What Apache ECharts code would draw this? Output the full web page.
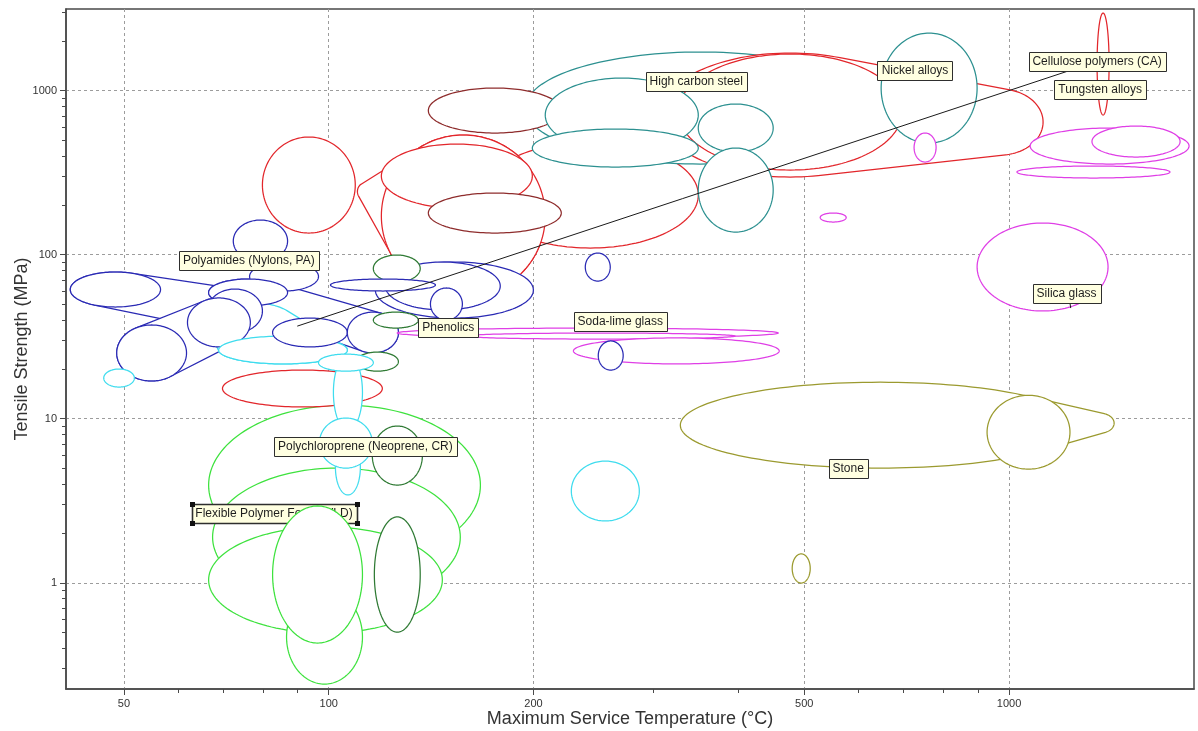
<!DOCTYPE html>
<html>
<head>
<meta charset="utf-8">
<title>Tensile Strength vs Maximum Service Temperature</title>
<script src="https://cdn.jsdelivr.net/npm/echarts@6.0.0/dist/echarts.min.js"></script>
<style>
html, body { margin: 0; padding: 0; background: #ffffff; }
#chart { width: 1198px; height: 731px; }
</style>
</head>
<body>
<div id="chart"></div>
<script>
// ---- Axis ranges and ticks (°C, MPa) ----
const tempRange = [41.1, 1870];
const strengthRange = [0.225, 3150];
const tempMajor = [50, 100, 200, 500, 1000];
const tempMinor = [60, 70, 80, 90, 300, 400, 600, 700, 800, 900];
const strengthMajor = [1, 10, 100, 1000];
const strengthMinor = [0.3, 0.4, 0.5, 0.6, 0.7, 0.8, 0.9, 2, 3, 4, 5, 6, 7, 8, 9,
  20, 30, 40, 50, 60, 70, 80, 90, 200, 300, 400, 500, 600, 700, 800, 900, 2000, 3000];

// ---- Property bubbles: each shape is a list of ranges [Tmin, Tmax, σmin, σmax];
// a shape with several ranges is drawn as the envelope around them ----
const redBubbles = [
  [[110.2, 115.9, 215.6, 273.6], [119.5, 208.1, 55.2, 536.9]],
  [[168.2, 349.3, 109.9, 486.6]],
  [[119.5, 208.1, 55.2, 536.9]],
  [[119.5, 199.2, 192.7, 473.2]],
  [[307.1, 740.1, 297.7, 1698], [838.6, 1122, 405.4, 1024]],
  [[326.5, 696.0, 328.4, 1674]],
  [[79.9, 109.4, 135.6, 522.1]],
  [[1347, 1403, 710.8, 2977]],
  [[69.8, 119.9, 11.8, 19.8]]
];
const maroonBubbles = [
  [[140.1, 219.7, 552.2, 1039]],
  [[140.1, 219.7, 135.6, 237.8]]
];
const tealBubbles = [
  [[194.5, 635.6, 357.3, 1722]],
  [[208.1, 349.3, 422.9, 1195]],
  [[199.2, 349.3, 342.5, 584.1]],
  [[349.3, 450.1, 422.9, 829.5]],
  [[349.3, 450.1, 137.5, 447.3]],
  [[648.6, 897.5, 479.8, 2247]]
];
const magentaBubbles = [
  [[725.1, 781.2, 367.4, 552.2]],
  [[1074, 1839, 357.3, 592.4]],
  [[1324, 1784, 394.2, 609.3]],
  [[1027, 1724, 293.6, 347.4]],
  [[527.7, 576.3, 158.3, 179.6]],
  [[897.5, 1398, 45.4, 156.1]],
  [[126.1, 457.8, 31.1, 35.7]],
  [[158.8, 395.6, 30.6, 33.3]],
  [[228.9, 459.4, 21.6, 31.1]]
];
const blueBubbles = [
  [[41.7, 56.6, 48.0, 78.4], [66.3, 79.9, 33.3, 61.8]],
  [[48.8, 61.8, 17.0, 37.3], [62.0, 76.7, 27.4, 54.5]],
  [[66.6, 87.0, 48.7, 71.1], [106.5, 126.6, 25.2, 44.7]],
  [[41.7, 56.6, 48.0, 78.4]],
  [[72.4, 87.0, 90.3, 162.8]],
  [[76.5, 96.6, 60.1, 90.3]],
  [[66.6, 87.0, 48.7, 71.1]],
  [[66.3, 79.9, 33.3, 61.8]],
  [[62.0, 76.7, 27.4, 54.5]],
  [[48.8, 61.8, 17.0, 37.3]],
  [[82.7, 106.5, 27.4, 41.1]],
  [[100.6, 143.5, 60.1, 71.1]],
  [[106.5, 126.6, 25.2, 44.7]],
  [[121.1, 178.7, 46.0, 90.3]],
  [[117.1, 199.9, 41.1, 90.3]],
  [[141.1, 157.2, 40.0, 62.7]],
  [[238.3, 259.3, 69.1, 102.4]],
  [[249.0, 270.9, 19.8, 29.8]]
];
const cyanBubbles = [
  [[67.0, 90.9, 23.8, 50.8], [68.9, 106.5, 21.6, 31.9]],
  [[68.9, 106.5, 21.6, 31.9]],
  [[96.6, 116.3, 19.5, 24.8]],
  [[46.7, 51.8, 15.6, 20.1]],
  [[227.3, 286.1, 2.38, 5.52]],
  [[101.6, 112.1, 8.53, 24.5]],
  [[96.9, 115.9, 5.0, 10.1]],
  [[102.3, 111.3, 3.43, 7.42]]
];
const greenBubbles = [
  [[66.6, 167.1, 1.28, 12.1]],
  [[67.5, 156.1, 0.721, 5.0]],
  [[66.6, 146.9, 0.494, 2.19]],
  [[82.7, 112.1, 0.429, 2.94]],
  [[86.7, 112.1, 0.241, 0.903]]
];
const darkGreenBubbles = [
  [[116.3, 136.3, 68.2, 99.6]],
  [[116.3, 135.4, 35.7, 44.7]],
  [[109.8, 126.6, 19.5, 25.5]],
  [[115.9, 137.3, 3.94, 9.03]],
  [[116.7, 136.3, 0.500, 2.52]]
];
const oliveBubbles = [
  [[328.7, 1272, 5.00, 16.7], [1298, 1427, 8.18, 10.8]],
  [[928.3, 1229, 4.93, 13.9]],
  [[480, 510.2, 0.996, 1.50]]
];

// ---- Annotations ----
const labelTexts = ['High carbon steel', 'Nickel alloys', 'Cellulose polymers (CA)', 'Tungsten alloys',
  'Polyamides (Nylons, PA)', 'Phenolics', 'Soda-lime glass', 'Silica glass', 'Stone',
  'Polychloroprene (Neoprene, CR)', 'Flexible Polymer Foam (VLD)'];
const labelAt = [[346.9, 1146], [727.3, 1337], [1347, 1513], [1361, 1017], [76.3, 92.2],
  [149.9, 36.2], [268.2, 39.1], [1215, 58.4], [580.2, 5.0], [113.2, 6.82], [83.1, 2.64]];
const leaderLines = [[[89.9, 36.7], [1221, 1318]], [[1229, 50.8], [1232, 47.3]]];

// ---- Styling ----
const families = {
  red: { shapes: redBubbles, color: '#e2262b' },
  maroon: { shapes: maroonBubbles, color: '#8e2c2c' },
  teal: { shapes: tealBubbles, color: '#2c9090' },
  magenta: { shapes: magentaBubbles, color: '#df3fe6' },
  blue: { shapes: blueBubbles, color: '#2a2ab4' },
  cyan: { shapes: cyanBubbles, color: '#3fdcee' },
  green: { shapes: greenBubbles, color: '#3ee23e' },
  darkGreen: { shapes: darkGreenBubbles, color: '#2f7a34' },
  olive: { shapes: oliveBubbles, color: '#9b9a2f' }
};
const SELECTED_LABEL = 10;
const FONT = '"Liberation Sans", Arial, sans-serif';

// Painting order: bubbles are filled white, so later ones cover earlier ones
const drawOrder = [
  ['red', 0], ['red', 1], ['red', 2], ['red', 3], ['maroon', 1], ['teal', 0], ['maroon', 0],
  ['red', 4], ['red', 5], ['teal', 1], ['teal', 2], ['teal', 3], ['teal', 4], ['teal', 5],
  ['magenta', 0], ['red', 6], ['red', 7],
  ['magenta', 1], ['magenta', 2], ['magenta', 3], ['magenta', 4], ['magenta', 5],
  ['blue', 0], ['blue', 1], ['blue', 2], ['cyan', 0],
  ['blue', 3], ['blue', 4], ['blue', 5], ['blue', 6], ['blue', 7], ['blue', 8], ['blue', 9],
  ['cyan', 1], ['blue', 10],
  ['blue', 14], ['blue', 13], ['darkGreen', 0], ['blue', 11], ['blue', 15], ['blue', 12], ['darkGreen', 1],
  ['magenta', 6], ['magenta', 7], ['magenta', 8], ['blue', 16], ['blue', 17],
  ['cyan', 3],
  ['green', 0], ['green', 1], ['green', 2], ['green', 4], ['label', 10], ['green', 3],
  ['darkGreen', 4], ['darkGreen', 3],
  ['red', 8],
  ['cyan', 5], ['cyan', 7], ['cyan', 6], ['darkGreen', 2], ['cyan', 2],
  ['cyan', 4],
  ['olive', 0], ['olive', 1], ['olive', 2],
  ['leader', 0], ['leader', 1],
  ['label', 0], ['label', 1], ['label', 2], ['label', 3], ['label', 4], ['label', 5],
  ['label', 6], ['label', 7], ['label', 8], ['label', 9]
];

const lg = Math.log10;

const measureCtx = document.createElement('canvas').getContext('2d');
function textWidth(text) {
  measureCtx.font = '12px ' + FONT;
  return measureCtx.measureText(text).width;
}

function convexHull(points) {
  const p = points.slice().sort((a, b) => a[0] - b[0] || a[1] - b[1]);
  const cross = (o, a, b) => (a[0] - o[0]) * (b[1] - o[1]) - (a[1] - o[1]) * (b[0] - o[0]);
  const lower = [];
  for (const q of p) {
    while (lower.length >= 2 && cross(lower[lower.length - 2], lower[lower.length - 1], q) <= 0) lower.pop();
    lower.push(q);
  }
  const upper = [];
  for (let i = p.length - 1; i >= 0; i--) {
    const q = p[i];
    while (upper.length >= 2 && cross(upper[upper.length - 2], upper[upper.length - 1], q) <= 0) upper.pop();
    upper.push(q);
  }
  upper.pop(); lower.pop();
  return lower.concat(upper);
}

function bubbleOutline(ranges, api) {
  const pts = [];
  ranges.forEach(r => {
    const a = api.coord([lg(r[0]), lg(r[2])]);
    const b = api.coord([lg(r[1]), lg(r[3])]);
    const cx = (a[0] + b[0]) / 2, cy = (a[1] + b[1]) / 2;
    const rx = Math.abs(b[0] - a[0]) / 2, ry = Math.abs(b[1] - a[1]) / 2;
    const n = 144;
    for (let k = 0; k < n; k++) {
      const t = k / n * Math.PI * 2;
      pts.push([cx + rx * Math.cos(t), cy + ry * Math.sin(t)]);
    }
  });
  return ranges.length > 1 ? convexHull(pts) : pts;
}

function labelElement(i, api, z) {
  const c = api.coord([lg(labelAt[i][0]), lg(labelAt[i][1])]);
  const w = Math.round(textWidth(labelTexts[i]) + 8);
  const h = 19;
  const x = Math.round(c[0] - w / 2) + 0.5, y = Math.round(c[1] - h / 2) + 0.5;
  const selected = i === SELECTED_LABEL;
  const children = [
    { type: 'rect', shape: { x: x, y: y, width: w, height: h },
      style: { fill: '#ffffe1', stroke: '#2e2e2e', lineWidth: selected ? 1.6 : 1 }, z2: z },
    { type: 'text', x: c[0], y: c[1] + 0.5, z2: z,
      style: { text: labelTexts[i], fill: '#1e1e1e', font: '12px ' + FONT, align: 'center', verticalAlign: 'middle' } }
  ];
  if (selected) {
    [[x, y], [x + w, y], [x, y + h], [x + w, y + h]].forEach(p => {
      children.push({ type: 'rect', shape: { x: p[0] - 2.5, y: p[1] - 2.5, width: 5, height: 5 },
        style: { fill: '#111111' }, z2: z });
    });
  }
  return { type: 'group', children: children };
}

function renderItem(params, api) {
  const entry = drawOrder[params.dataIndex];
  const z = params.dataIndex + 1;
  if (entry[0] === 'label') return labelElement(entry[1], api, z);
  if (entry[0] === 'leader') {
    const seg = leaderLines[entry[1]];
    const a = api.coord([lg(seg[0][0]), lg(seg[0][1])]);
    const b = api.coord([lg(seg[1][0]), lg(seg[1][1])]);
    return { type: 'line', z2: z, shape: { x1: a[0], y1: a[1], x2: b[0], y2: b[1] },
      style: { stroke: '#1a1a1a', lineWidth: 1 } };
  }
  const fam = families[entry[0]];
  return {
    type: 'polygon', z2: z,
    shape: { points: bubbleOutline(fam.shapes[entry[1]], api) },
    style: { fill: '#ffffff', stroke: fam.color, lineWidth: 1.25 }
  };
}

const axisColor = '#4a4a4a';
function mainAxis(range, major, name, isX) {
  return {
    type: 'value',
    min: lg(range[0]), max: lg(range[1]),
    position: isX ? 'bottom' : 'left',
    name: name,
    nameLocation: 'middle',
    nameGap: isX ? 21 : 35,
    nameMoveOverlap: false,
    nameTextStyle: { fontFamily: FONT, fontSize: 18, color: '#333333' },
    axisLine: { show: true, onZero: false, lineStyle: { color: axisColor, width: 1.5 } },
    axisTick: { show: true, inside: false, length: 6, customValues: major.map(lg),
      lineStyle: { color: axisColor, width: 1 } },
    axisLabel: { show: true, customValues: major.map(lg), margin: isX ? 9 : 9,
      color: '#333333', fontFamily: FONT, fontSize: 11,
      formatter: v => String(Math.round(Math.pow(10, v))) },
    splitLine: { show: true, lineStyle: { color: '#9c9c9c', width: 1, type: [3, 3] } }
  };
}
function minorAxis(range, minor, isX) {
  return {
    type: 'value',
    min: lg(range[0]), max: lg(range[1]),
    position: isX ? 'bottom' : 'left',
    axisLine: { show: false, onZero: false },
    axisTick: { show: true, inside: false, length: 4, customValues: minor.map(lg),
      lineStyle: { color: axisColor, width: 1 } },
    axisLabel: { show: false },
    splitLine: { show: false }
  };
}

const chart = echarts.init(document.getElementById('chart'), null, { renderer: 'canvas' });
chart.setOption({
  animation: false,
  backgroundColor: '#ffffff',
  grid: { left: 66, right: 4, top: 9, bottom: 42, show: true, borderColor: axisColor, borderWidth: 1.5,
    backgroundColor: '#ffffff', containLabel: false, outerBoundsMode: 'none' },
  xAxis: [mainAxis(tempRange, tempMajor, 'Maximum Service Temperature (°C)', true),
          minorAxis(tempRange, tempMinor, true)],
  yAxis: [mainAxis(strengthRange, strengthMajor, 'Tensile Strength (MPa)', false),
          minorAxis(strengthRange, strengthMinor, false)],
  series: [{
    type: 'custom',
    coordinateSystem: 'cartesian2d',
    xAxisIndex: 0, yAxisIndex: 0,
    silent: true,
    clip: false,
    data: drawOrder.map(() => [2, 1]),
    renderItem: renderItem
  }]
});
</script>
</body>
</html>
